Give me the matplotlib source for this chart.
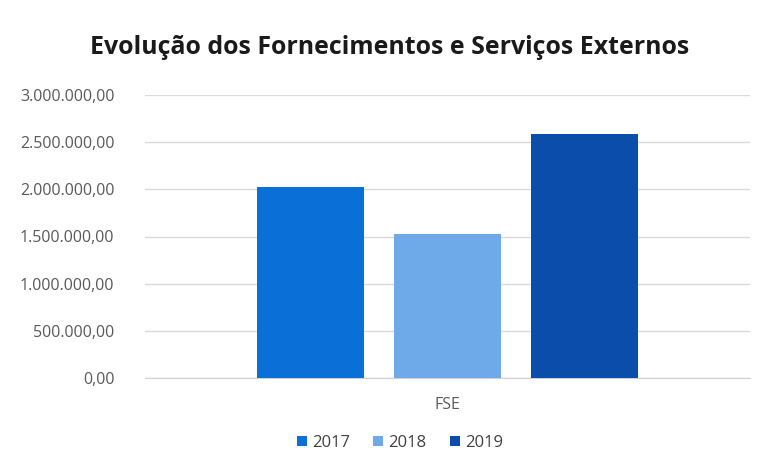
import numpy as np
import matplotlib.pyplot as plt
from matplotlib.ticker import FuncFormatter

# data
category = "FSE"
years = ["2017", "2018", "2019"]
values = [2020000, 1525000, 2585000]
colors = ["#0A6FD6", "#6EA9EA", "#0A4DAA"]
y_ticks = [0, 500000, 1000000, 1500000, 2000000, 2500000, 3000000]


def pt_format(v, pos):
    """format numbers the portuguese way: 1.000.000,00"""
    s = "{:,.2f}".format(v)
    return s.replace(",", "X").replace(".", ",").replace("X", ".")


plt.rcParams["font.family"] = ["Open Sans", "DejaVu Sans"]

fig = plt.figure(figsize=(7.67, 4.72), dpi=100)
ax = fig.add_axes([145 / 767, 1 - 378 / 472, 605 / 767, 283 / 472])

pos = np.arange(len(years)) - 1
for i in range(len(years)):
    ax.bar(pos[i], values[i], width=0.78, color=colors[i], label=years[i],
           zorder=3)

ax.set_ylim(0, 3000000)
ax.set_xlim(-2.21, 2.21)
ax.set_yticks(y_ticks)
ax.yaxis.set_major_formatter(FuncFormatter(pt_format))
ax.set_xticks([0])
ax.set_xticklabels([category])
ax.tick_params(axis="both", length=0, labelsize=11.5, colors="#595959")
ax.tick_params(axis="y", pad=22)
ax.tick_params(axis="x", pad=14)
ax.grid(axis="y", color="#D9D9D9", linewidth=1, zorder=0)

for s in ["top", "right", "left"]:
    ax.spines[s].set_visible(False)
ax.spines["bottom"].set_color("#D0D0D0")

fig.text(0.508, 1 - 47 / 472, "Evolução dos Fornecimentos e Serviços Externos",
         ha="center", va="center", fontsize=17.9, fontweight="bold",
         color="#1a1a1a")

fig.legend(loc="center", bbox_to_anchor=(400 / 767, 1 - 443 / 472), ncol=3,
           frameon=False, fontsize=12, handlelength=0.6, handleheight=0.6,
           handletextpad=0.3, columnspacing=1.4, labelcolor="#404040")

plt.savefig("out.png", dpi=100)
